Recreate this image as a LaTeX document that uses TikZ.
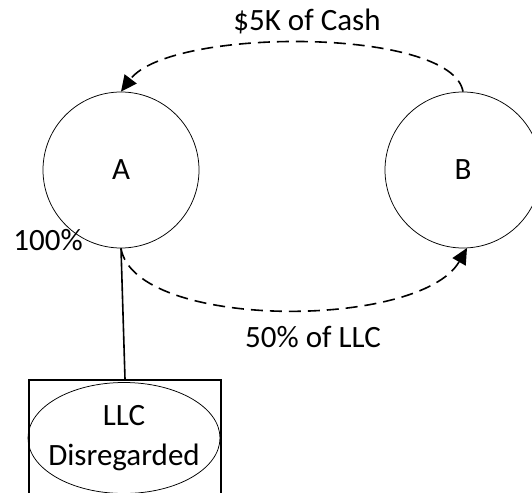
\documentclass[tikz,border=0pt]{standalone}
\usepackage{fontspec}
\setmainfont{Carlito}
\usetikzlibrary{arrows.meta,shapes.geometric}
\tikzset{
  ent/.style={circle,draw,line width=0.75pt,minimum size=156pt,inner sep=0pt,font=\fontsize{31}{37}\selectfont},
  lbl/.style={inner sep=0pt,font=\fontsize{31}{37}\selectfont},
  flow/.style={dash pattern=on 12pt off 7pt,line width=1.6pt,-{Triangle[length=16pt,width=15pt]}},
  holder/.style={draw,line width=1.6pt,minimum width=192pt,minimum height=150pt,anchor=north,inner sep=0pt},
  llctext/.style={inner sep=0pt,align=center,font=\fontsize{31}{40}\selectfont}
}
\begin{document}
\begin{tikzpicture}[x=1pt,y=-1pt]
\clip (0,0) rectangle (532,492);
\fill[white] (0,0) rectangle (532,492);
\node[ent] (A) at (121,170) {A};
\node[ent] (B) at (463,170) {B};
\node[holder] (box) at (125,379) {};
\node[llctext] (llc) at (124,438) {LLC\\Disregarded};
\draw[line width=0.75pt] (llc.center) ellipse [x radius=96, y radius=55.5];
\draw[line width=1.6pt] (A.south) -- (box.north);
\draw[flow] (B.north) .. controls (452,27) and (170,27) .. (A.north);
\draw[flow] (A.south) .. controls (135,330) and (420,330) .. (467,248);
\node[lbl] (cash) at (307,21) {\$5K of Cash};
\node[lbl] (share) at (313,337) {50\% of LLC};
\node[lbl] (pct) at (48,240) {100\%};
\end{tikzpicture}
\end{document}
